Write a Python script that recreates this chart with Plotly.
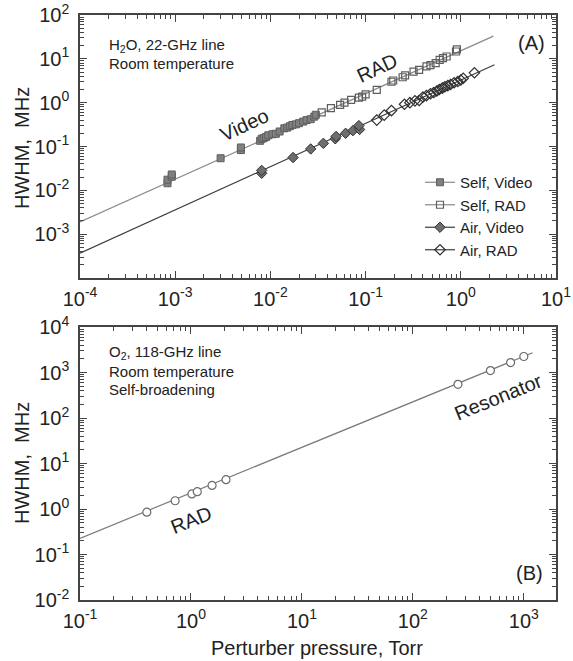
import plotly.graph_objects as go

W, H = 573, 661

# ---------------- Panel A: H2O 22-GHz line ----------------
self_video_p = [0.00083, 0.00083, 0.00092, 0.00092, 0.0030, 0.0049, 0.0049, 0.0078, 0.0081, 0.0085,
                0.0090, 0.0095, 0.0105, 0.0114, 0.0125, 0.0140, 0.0150, 0.0160, 0.0170, 0.0185,
                0.0200, 0.0221, 0.0240, 0.0265, 0.0289, 0.0300]
self_video_w = [0.0145, 0.0175, 0.0205, 0.0230, 0.054, 0.083, 0.095, 0.135, 0.150, 0.155,
                0.165, 0.180, 0.190, 0.195, 0.220, 0.260, 0.270, 0.290, 0.310, 0.320,
                0.340, 0.370, 0.400, 0.420, 0.480, 0.530]

self_rad_p = [0.0346, 0.0432, 0.054, 0.060, 0.0705, 0.085, 0.092, 0.100, 0.131, 0.187, 0.195,
              0.245, 0.260, 0.319, 0.365, 0.436, 0.480, 0.545, 0.600, 0.650, 0.710, 0.890, 0.910]
self_rad_w = [0.60, 0.75, 0.89, 1.00, 1.16, 1.30, 1.38, 1.55, 1.96, 3.00, 3.20,
              3.80, 4.20, 5.10, 5.60, 6.70, 7.20, 8.00, 9.50, 10.4, 11.3, 14.7, 16.5]

air_video_p = [0.0081, 0.0081, 0.0173, 0.0265, 0.036, 0.048, 0.049, 0.0617, 0.0736, 0.0865, 0.085]
air_video_w = [0.0245, 0.0285, 0.056, 0.088, 0.118, 0.150, 0.170, 0.200, 0.230, 0.245, 0.300]

air_rad_p = [0.131, 0.157, 0.187, 0.256, 0.292, 0.330, 0.365, 0.400, 0.436, 0.480, 0.520, 0.560,
             0.594, 0.640, 0.680, 0.730, 0.780, 0.850, 0.930, 1.000, 1.060, 1.390]
air_rad_w = [0.40, 0.52, 0.66, 0.92, 1.00, 1.10, 1.12, 1.35, 1.45, 1.60, 1.70, 1.85,
             2.00, 2.15, 2.30, 2.45, 2.60, 2.85, 3.05, 3.30, 3.60, 4.80]

self_fit_p = [1e-4, 2.2]
self_fit_w = [1.9e-3, 33]
air_fit_p = [1e-4, 2.26]
air_fit_w = [3.7e-4, 7.3]

# ---------------- Panel B: O2 118-GHz line ----------------
o2_rad_p = [0.40, 0.72, 1.02, 1.14, 1.55, 2.07]
o2_rad_w = [0.85, 1.52, 2.14, 2.40, 3.30, 4.40]
o2_res_p = [255, 500, 760, 1000]
o2_res_w = [550, 1100, 1650, 2250]
o2_fit_p = [0.1, 1200]
o2_fit_w = [0.226, 2720]

# tick labels
xa_tickvals = [1e-4, 1e-3, 1e-2, 1e-1, 1e0, 1e1]
xa_ticktext = ["10<sup>-4</sup>", "10<sup>-3</sup>", "10<sup>-2</sup>", "10<sup>-1</sup>",
               "10<sup>0</sup>", "10<sup>1</sup>"]
ya_tickvals = [1e-3, 1e-2, 1e-1, 1e0, 1e1, 1e2]
ya_ticktext = ["10<sup>-3</sup>", "10<sup>-2</sup>", "10<sup>-1</sup>", "10<sup>0</sup>",
               "10<sup>1</sup>", "10<sup>2</sup>"]
xb_tickvals = [1e-1, 1e0, 1e1, 1e2, 1e3]
xb_ticktext = ["10<sup>-1</sup>", "10<sup>0</sup>", "10<sup>1</sup>", "10<sup>2</sup>", "10<sup>3</sup>"]
yb_tickvals = [1e-2, 1e-1, 1e0, 1e1, 1e2, 1e3, 1e4]
yb_ticktext = ["10<sup>-2</sup>", "10<sup>-1</sup>", "10<sup>0</sup>", "10<sup>1</sup>",
               "10<sup>2</sup>", "10<sup>3</sup>", "10<sup>4</sup>"]


def minors(e0, e1):
    return [k * 10.0 ** e for e in range(e0, e1) for k in range(2, 10)]


FONT = "Liberation Sans, Arial, sans-serif"
TXT = "#222222"
AX = "#444444"

SELF_LINE = "#8a8a8a"
AIR_LINE = "#3c3c3c"

fig = go.Figure()

# fit lines
fig.add_trace(go.Scatter(x=self_fit_p, y=self_fit_w, mode="lines", line=dict(color=SELF_LINE, width=1.2),
                         showlegend=False, xaxis="x", yaxis="y"))
fig.add_trace(go.Scatter(x=air_fit_p, y=air_fit_w, mode="lines", line=dict(color=AIR_LINE, width=1.2),
                         showlegend=False, xaxis="x", yaxis="y"))

# data markers
mk_sv = dict(symbol="square", size=7, color="#808080", line=dict(color="#5e5e5e", width=1))
mk_sr = dict(symbol="square-open", size=7, color="#5e5e5e", line=dict(width=1.2))
mk_av = dict(symbol="diamond", size=8, color="#6e6e6e", line=dict(color="#303030", width=1))
mk_ar = dict(symbol="diamond-open", size=8, color="#303030", line=dict(width=1.2))

fig.add_trace(go.Scatter(x=self_video_p, y=self_video_w, mode="markers", marker=mk_sv,
                         showlegend=False, xaxis="x", yaxis="y"))
fig.add_trace(go.Scatter(x=self_rad_p, y=self_rad_w, mode="markers", marker=mk_sr,
                         showlegend=False, xaxis="x", yaxis="y"))
fig.add_trace(go.Scatter(x=air_video_p, y=air_video_w, mode="markers", marker=mk_av,
                         showlegend=False, xaxis="x", yaxis="y"))
fig.add_trace(go.Scatter(x=air_rad_p, y=air_rad_w, mode="markers", marker=mk_ar,
                         showlegend=False, xaxis="x", yaxis="y"))

# legend entries (line + marker)
for name, mk, lc in [("Self, Video", mk_sv, SELF_LINE), ("Self, RAD", mk_sr, SELF_LINE),
                     ("Air, Video", mk_av, AIR_LINE), ("Air, RAD", mk_ar, AIR_LINE)]:
    fig.add_trace(go.Scatter(x=[None], y=[None], mode="lines+markers", name=name, marker=mk,
                             line=dict(color=lc, width=1.2), xaxis="x", yaxis="y"))

# panel B
fig.add_trace(go.Scatter(x=o2_fit_p, y=o2_fit_w, mode="lines", line=dict(color="#7a7a7a", width=1.2),
                         showlegend=False, xaxis="x2", yaxis="y2"))
mk_o2 = dict(symbol="circle", size=8, color="white", line=dict(color="#6a6a6a", width=1.2))
fig.add_trace(go.Scatter(x=o2_rad_p + o2_res_p, y=o2_rad_w + o2_res_w, mode="markers", marker=mk_o2,
                         showlegend=False, xaxis="x2", yaxis="y2"))


def PX(x):
    return x / W


def PY(y):
    return 1 - y / H


axis_common = dict(type="log", showgrid=False, zeroline=False, showline=True, linecolor=AX, linewidth=1.5,
                   mirror="ticks", ticks="inside", ticklen=7, tickwidth=1, tickcolor=AX,
                   tickfont=dict(family=FONT, size=20, color=TXT), automargin=False)

L, R = 80, 556
fig.update_layout(
    width=W, height=H, margin=dict(l=0, r=0, t=0, b=0),
    paper_bgcolor="white", plot_bgcolor="white",
    font=dict(family=FONT, color=TXT),
    xaxis=dict(domain=[PX(L), PX(R)], range=[-4, 1], anchor="y", tickvals=xa_tickvals, ticktext=xa_ticktext,
               ticklabelstandoff=2,
               minor=dict(ticks="inside", ticklen=4, tickcolor=AX, tickvals=minors(-4, 1)), **axis_common),
    yaxis=dict(domain=[PY(278), PY(15)], range=[-4, 2], anchor="x", tickvals=ya_tickvals, ticktext=ya_ticktext,
               ticklabelstandoff=5,
               minor=dict(ticks="inside", ticklen=4, tickcolor=AX, tickvals=minors(-4, 2)), **axis_common),
    xaxis2=dict(domain=[PX(L), PX(R)], range=[-1, 3.29], anchor="y2", tickvals=xb_tickvals, ticktext=xb_ticktext,
                ticklabelstandoff=2,
                minor=dict(ticks="inside", ticklen=4, tickcolor=AX, tickvals=minors(-1, 4)), **axis_common),
    yaxis2=dict(domain=[PY(600), PY(327)], range=[-2, 4], anchor="x2", tickvals=yb_tickvals, ticktext=yb_ticktext,
                ticklabelstandoff=5,
                minor=dict(ticks="inside", ticklen=4, tickcolor=AX, tickvals=minors(-2, 4)), **axis_common),
    legend=dict(x=PX(420), y=PY(166), xanchor="left", yanchor="top", bgcolor="rgba(0,0,0,0)",
                font=dict(family=FONT, size=15, color=TXT), tracegroupgap=0),
    showlegend=True,
)

ann = []


def text(x, y, s, size=15, angle=0, xanchor="center"):
    ann.append(dict(x=PX(x), y=PY(y), xref="paper", yref="paper", text=s, showarrow=False,
                    font=dict(family=FONT, size=size, color=TXT), textangle=angle,
                    xanchor=xanchor, yanchor="middle"))


text(107, 45, "H<sub>2</sub>O, 22-GHz line", xanchor="left")
text(107, 63, "Room temperature", xanchor="left")
text(531, 43, "(A)", size=20)
text(244, 125, "Video", size=20, angle=-25)
text(377, 68, "RAD", size=20, angle=-25)

text(107, 352, "O<sub>2</sub>, 118-GHz line", xanchor="left")
text(107, 371, "Room temperature", xanchor="left")
text(107, 389, "Self-broadening", xanchor="left")
text(529, 573, "(B)", size=20)
text(191, 520, "RAD", size=20, angle=-22)
text(498, 397, "Resonator", size=20, angle=-22)

text(22, 148, "HWHM,  MHz", size=20, angle=-90)
text(22, 463, "HWHM,  MHz", size=20, angle=-90)
text(317, 648, "Perturber pressure, Torr", size=20)

fig.update_layout(annotations=ann)

fig.write_html("out.html", config={"displayModeBar": False},
               post_script="document.body.style.margin='0px';document.body.style.padding='0px';"
                           "document.body.style.overflow='hidden';")
